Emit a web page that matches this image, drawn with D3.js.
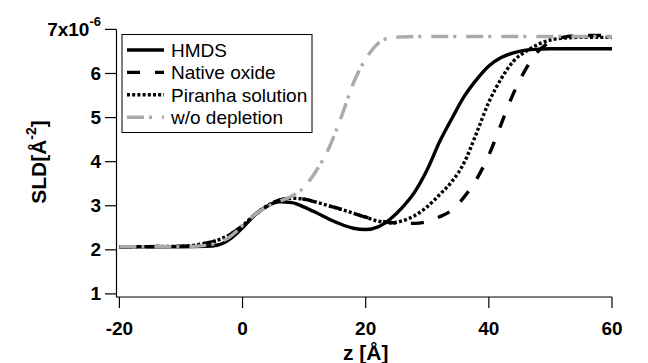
<!DOCTYPE html>
<html>
<head>
<meta charset="utf-8">
<script src="https://cdn.jsdelivr.net/npm/d3@7"></script>
<style>
  html, body { margin: 0; padding: 0; background: #fff; }
  svg { display: block; font-family: "Liberation Sans", Arial, sans-serif; }
</style>
</head>
<body>
<svg id="chart" width="648" height="363"></svg>
<script>
// z positions (Å) shared by all profiles
const zGrid = [-20, -10, -6, -4, -2, 0, 2, 4, 6, 8, 10, 12, 14, 16, 18, 20, 22, 24, 26, 28,
               30, 32, 34, 36, 38, 40, 42, 44, 46, 48, 50, 52, 55, 60]

// SLD values in units of 1e-6 Å^-2
const hmds = [2.07, 2.07, 2.08, 2.11, 2.25, 2.5, 2.79, 2.99, 3.09, 3.07, 2.97, 2.84, 2.70, 2.58, 2.49, 2.46, 2.52, 2.70, 2.97, 3.32,
              3.82, 4.45, 4.98, 5.48, 5.86, 6.17, 6.36, 6.47, 6.53, 6.55, 6.56, 6.56, 6.56, 6.56]
const nativeOxide = [2.07, 2.08, 2.15, 2.22, 2.35, 2.55, 2.80, 3.0, 3.13, 3.17, 3.15, 3.08, 3.0, 2.92, 2.83, 2.74, 2.67, 2.62, 2.60, 2.60,
                     2.64, 2.75, 2.90, 3.20, 3.60, 4.15, 4.85, 5.55, 6.10, 6.50, 6.72, 6.82, 6.86, 6.86]
const piranha = [2.07, 2.08, 2.15, 2.22, 2.35, 2.55, 2.80, 3.0, 3.13, 3.17, 3.15, 3.08, 3.0, 2.92, 2.83, 2.74, 2.65, 2.61, 2.66, 2.78,
                 2.98, 3.25, 3.55, 3.98, 4.65, 5.35, 5.88, 6.28, 6.50, 6.66, 6.76, 6.80, 6.82, 6.82]
const noDepletion = [2.07, 2.07, 2.10, 2.16, 2.30, 2.55, 2.80, 2.98, 3.10, 3.22, 3.42, 3.80, 4.30, 5.0, 5.78, 6.33, 6.68, 6.81, 6.83, 6.84,
                     6.84, 6.84, 6.84, 6.84, 6.84, 6.84, 6.84, 6.84, 6.84, 6.84, 6.84, 6.84, 6.84, 6.84]

const seriesNames = ["HMDS", "Native oxide", "Piranha solution", "w/o depletion"]
const xTicks = [-20, 0, 20, 40, 60]
const yTicks = [1, 2, 3, 4, 5, 6, 7]

const series = [
  { name: seriesNames[0], values: hmds,        color: "#000", dash: null },
  { name: seriesNames[1], values: nativeOxide, color: "#000", dash: "13,15" },
  { name: seriesNames[2], values: piranha,     color: "#000", dash: "3,2.2" },
  { name: seriesNames[3], values: noDepletion, color: "#aaa", dash: "17,5,3,10" }
]

const svg = d3.select("#chart")

const x = d3.scaleLinear().domain([-20.55, 60]).range([116, 612])
const y = d3.scaleLinear().domain([0.93, 7]).range([297, 29.4])

const tickFont = 19

// x axis
svg.append("line")
  .attr("x1", x.range()[0]).attr("x2", x.range()[1])
  .attr("y1", 297).attr("y2", 297)
  .attr("stroke", "#000").attr("stroke-width", 1.2)
svg.selectAll(".xtick")
  .data(xTicks)
  .enter()
  .append("line")
  .attr("x1", d => x(d)).attr("x2", d => x(d))
  .attr("y1", 297).attr("y2", 308)
  .attr("stroke", "#000").attr("stroke-width", 1.2)
svg.selectAll(".xlabel")
  .data(xTicks)
  .enter()
  .append("text")
  .attr("x", d => x(d))
  .attr("y", 335)
  .attr("text-anchor", "middle")
  .attr("font-size", tickFont)
  .attr("font-weight", "bold")
  .text(d => d)

// y axis
svg.append("line")
  .attr("x1", 116.5).attr("x2", 116.5)
  .attr("y1", y(7)).attr("y2", 297)
  .attr("stroke", "#000").attr("stroke-width", 1.2)
svg.selectAll(".ytick")
  .data(yTicks)
  .enter()
  .append("line")
  .attr("x1", 105).attr("x2", 116.5)
  .attr("y1", d => y(d)).attr("y2", d => y(d))
  .attr("stroke", "#000").attr("stroke-width", 1.2)
svg.selectAll(".ylabel")
  .data(yTicks.filter(d => d !== 7))
  .enter()
  .append("text")
  .attr("x", 101)
  .attr("y", d => y(d) + 6.5)
  .attr("text-anchor", "end")
  .attr("font-size", tickFont)
  .attr("font-weight", "bold")
  .text(d => d)

// top label with exponent
const topLabel = svg.append("text")
  .attr("x", 101)
  .attr("y", y(7) + 6.5)
  .attr("text-anchor", "end")
  .attr("font-size", tickFont)
  .attr("font-weight", "bold")
topLabel.append("tspan").text("7x10")
topLabel.append("tspan").attr("font-size", 13).attr("dy", -10).text("-6")

// axis titles
svg.append("text")
  .attr("x", x(20))
  .attr("y", 360)
  .attr("text-anchor", "middle")
  .attr("font-size", 21)
  .attr("font-weight", "bold")
  .text("z [Å]")

const yTitle = svg.append("text")
  .attr("transform", "translate(46,162) rotate(-90)")
  .attr("text-anchor", "middle")
  .attr("font-size", 21)
  .attr("font-weight", "bold")
yTitle.append("tspan").text("SLD[Å")
yTitle.append("tspan").attr("font-size", 14).attr("dy", -10).text("-2")
yTitle.append("tspan").attr("dy", 10).text("]")

// curves
const line = d3.line()
  .x((d, i) => x(zGrid[i]))
  .y(d => y(d))
  .curve(d3.curveMonotoneX)

svg.selectAll(".profile")
  .data(series)
  .enter()
  .append("path")
  .attr("class", "profile")
  .attr("d", d => line(d.values))
  .attr("fill", "none")
  .attr("stroke", d => d.color)
  .attr("stroke-width", 3.4)
  .attr("stroke-dasharray", d => d.dash)

// legend
const legend = svg.append("g")
legend.append("rect")
  .attr("x", 122).attr("y", 34.5)
  .attr("width", 190).attr("height", 98)
  .attr("fill", "#fff")
  .attr("stroke", "#000")
  .attr("stroke-width", 1)

const rowY = i => 50 + i * 22.4
legend.selectAll(".lg-line")
  .data(series)
  .enter()
  .append("line")
  .attr("x1", 127).attr("x2", 164)
  .attr("y1", (d, i) => rowY(i)).attr("y2", (d, i) => rowY(i))
  .attr("stroke", d => d.color)
  .attr("stroke-width", 3.4)
  .attr("stroke-dasharray", d => d.dash)
legend.selectAll(".lg-text")
  .data(series)
  .enter()
  .append("text")
  .attr("x", 171)
  .attr("y", (d, i) => rowY(i) + 6.8)
  .attr("font-size", 19)
  .text(d => d.name)
</script>
</body>
</html>
